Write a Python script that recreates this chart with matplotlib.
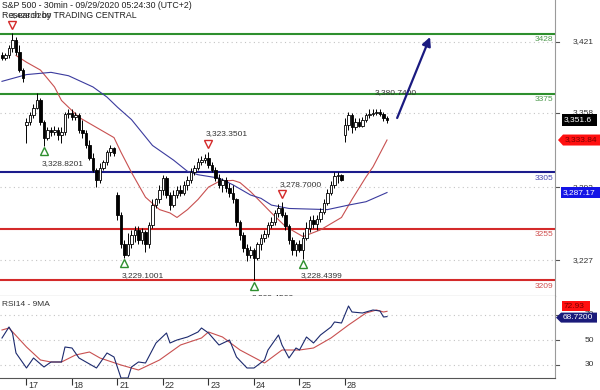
import numpy as np
import matplotlib
matplotlib.use('Agg')
import matplotlib.pyplot as plt
from matplotlib.patches import Polygon
from matplotlib.transforms import blended_transform_factory

plt.rcParams['font.family'] = ['Liberation Sans', 'DejaVu Sans']

# ---- data ----
days = ['16', '17', '18', '21', '22', '23', '24', '25', '28']
bars_per_day = [7, 13, 13, 13, 13, 13, 13, 13, 13]

opens = [3409, 3407, 3409, 3416, 3423, 3412, 3396,
         3347, 3350, 3356, 3362, 3369, 3350, 3336, 3343, 3341, 3343, 3338, 3341, 3357,
         3358, 3354, 3356, 3343, 3340, 3329.5, 3318, 3307, 3298, 3309, 3314, 3323, 3327,
         3285, 3267, 3241, 3232, 3241, 3249, 3254, 3245, 3252, 3241, 3258, 3276, 3281,
         3289, 3300, 3285, 3276, 3285, 3289, 3287, 3294, 3298, 3305, 3309, 3314, 3316,
         3318, 3312, 3307, 3300, 3294, 3298, 3291, 3287, 3281, 3261, 3249, 3238, 3232,
         3236, 3229, 3241, 3247, 3250, 3258, 3261, 3269, 3273, 3267, 3257, 3245, 3236,
         3241, 3236, 3247, 3256, 3263, 3259, 3264, 3270, 3278, 3287, 3294, 3302, 3303,
         3338, 3347, 3356, 3345, 3350, 3346, 3352, 3356, 3357, 3358, 3359, 3357, 3353]
highs = [3412, 3411, 3418, 3428.92, 3425, 3418, 3398,
         3353, 3359, 3366, 3376, 3371, 3352, 3345, 3345, 3346, 3345, 3345, 3359, 3361,
         3361, 3359, 3358, 3352, 3343, 3334, 3322, 3309, 3313, 3316, 3325, 3329, 3328,
         3288, 3270, 3245, 3251, 3254, 3257, 3257, 3256, 3254, 3261, 3281, 3282, 3294,
         3303, 3302, 3288, 3289, 3293, 3294, 3297, 3302, 3309, 3312, 3318, 3320, 3321,
         3323.3501, 3314, 3310, 3304, 3300, 3301, 3296, 3294, 3282, 3263, 3252, 3241, 3240,
         3238, 3243, 3250, 3254, 3261, 3265, 3272, 3277, 3278.70, 3270, 3259, 3248, 3243,
         3245, 3252, 3261, 3266, 3267, 3267, 3273, 3281, 3290, 3297, 3305, 3305, 3304,
         3353, 3359, 3358, 3353, 3353, 3354, 3358, 3361, 3361, 3361.5, 3361, 3359, 3355]
lows = [3405, 3405, 3407, 3412, 3409, 3394, 3385,
        3331, 3347, 3353, 3361, 3347, 3328.8201, 3334, 3337, 3338, 3334, 3331, 3338, 3353,
        3352, 3352, 3340, 3336, 3327, 3316, 3305, 3292, 3296, 3307, 3312, 3320, 3320,
        3263, 3238, 3229.1001, 3231, 3238, 3243, 3241, 3241, 3234, 3238, 3256, 3273, 3278,
        3285, 3282, 3272, 3274, 3282, 3284, 3285, 3289, 3296, 3303, 3307, 3312, 3313,
        3309, 3305, 3297, 3291, 3288, 3288, 3283, 3278, 3257, 3245, 3234, 3226, 3229,
        3209.45, 3227, 3236, 3243, 3248, 3256, 3258, 3265, 3265, 3254, 3241, 3232, 3231,
        3234, 3228.4399, 3245, 3252, 3256, 3254, 3261, 3268, 3276, 3285, 3291, 3296, 3297,
        3332, 3343, 3340, 3343, 3345, 3345, 3350, 3353, 3355, 3356, 3355, 3351, 3349]
closes = [3407, 3409, 3416, 3423, 3412, 3396, 3389,
          3350, 3356, 3362, 3369, 3350, 3336, 3343, 3341, 3343, 3338, 3341, 3357, 3358,
          3354, 3356, 3343, 3340, 3329.5, 3318, 3307, 3298, 3309, 3314, 3323, 3327, 3322,
          3267, 3241, 3232, 3241, 3249, 3254, 3245, 3252, 3241, 3258, 3276, 3281, 3289,
          3300, 3285, 3276, 3285, 3289, 3287, 3294, 3298, 3305, 3309, 3314, 3316, 3318,
          3312, 3307, 3300, 3294, 3298, 3291, 3287, 3281, 3261, 3249, 3238, 3232, 3236,
          3229, 3241, 3247, 3250, 3258, 3261, 3269, 3273, 3267, 3257, 3245, 3236, 3241,
          3236, 3247, 3256, 3263, 3259, 3264, 3270, 3278, 3287, 3294, 3302, 3303, 3298,
          3347, 3356, 3345, 3350, 3346, 3352, 3356, 3357, 3358, 3359, 3357, 3353, 3351.6]

ma_fast_idx = [4, 7, 11, 15, 17, 22, 27, 32, 34, 37, 41, 45, 48, 50, 53, 56, 59, 62, 66, 68,
               71, 77, 81, 86, 91, 97, 100, 104, 106, 110]
ma_fast = [3409, 3403, 3396, 3381, 3369, 3354, 3345, 3336, 3323, 3305, 3283, 3272, 3269, 3265,
           3272, 3281, 3292, 3297, 3298, 3296, 3288, 3269, 3257, 3248, 3254, 3265, 3281, 3301,
           3310, 3333.84]
ma_slow_idx = [0, 7, 14, 19, 26, 30, 33, 37, 43, 49, 53, 56, 62, 66, 71, 74, 77, 82, 93, 99,
               104, 110]
ma_slow = [3386, 3392, 3394, 3391, 3381, 3372, 3363, 3352, 3329, 3316, 3306, 3303, 3300, 3294,
           3285, 3282, 3276, 3273, 3272, 3276, 3279, 3287.17]

rsi_idx = [0, 2, 3, 4, 7, 9, 12, 14, 17, 18, 20, 21, 22, 27, 28, 30, 32, 34, 36, 37,
           39, 41, 44, 47, 48, 50, 53, 56, 57, 59, 62, 65, 67, 70, 72, 75, 76, 79, 80, 82,
           84, 85, 87, 89, 91, 94, 95, 97, 99, 100, 103, 106, 108, 109, 110]
rsi = [51.6, 60.4, 55.6, 39.6, 27.6, 35.6, 28.4, 32.4, 32.4, 44.4,
       43.6, 39.6, 35.6, 27.6, 31.6, 39.6, 36.4, 19.6, 19.6, 28.4,
       32.4, 31.6, 47.6, 55.6, 47.6, 50, 52.4, 56.4, 59.6, 55.6,
       46, 50, 36.4, 27.6, 27.6, 34, 42, 54, 46, 35.6,
       43.6, 42, 52.4, 47.6, 54, 60.4, 64.4, 63.6, 77.2, 72.4,
       71.6, 74, 73.2, 68.4, 68.72]
rsi_ma_idx = [0, 2, 7, 11, 14, 17, 21, 25, 28, 34, 39, 45, 51, 57, 59, 63, 68, 75, 80, 85,
              89, 94, 99, 104, 107, 109, 110]
rsi_ma = [58, 59.6, 44.4, 34, 32.4, 32.4, 38, 40.4, 35.6, 30, 26, 34, 46, 51.6, 56.4, 52.4,
          42, 31.6, 42, 42, 43.6, 51.6, 62, 71.6, 74, 72.4, 72.93]

levels = [3428, 3375, 3305, 3255, 3209]
level_colors = ['#2e8f2e', '#2e8f2e', '#1c1c8c', '#d42a2a', '#d42a2a']
level_text = ['#4f9a4f', '#4f9a4f', '#4a4ab0', '#d05050', '#d05050']

pivot_bars = [3, 12, 35, 59, 72, 80, 86]
pivot_high = [True, False, False, True, False, True, False]

price_ticks = [3421, 3358, 3292, 3227]
rsi_ticks = [70, 50, 30]

target_price = 3380.74
arrow_from = (112.9, 3353.4)
arrow_to = (122.3, 3425.4)

# ---- figure ----
W, H = 600, 390
fig = plt.figure(figsize=(6, 3.9), dpi=100)
ax = fig.add_axes([0, 1 - 296 / H, 555 / W, 296 / H])
ax2 = fig.add_axes([0, 1 - 378 / H, 555 / W, 82 / H])

n = len(closes)
x = np.arange(n)
o = np.array(opens, float)
c = np.array(closes, float)
hi = np.array(highs, float)
lo = np.array(lows, float)

for a in (ax, ax2):
    a.set_xlim(-0.57, 158)
    a.spines['left'].set_visible(False)
    a.spines['top'].set_visible(False)
    a.spines['right'].set_color('#9a9a9a')
    a.spines['bottom'].set_color('#555555')
    a.set_yticks([])
ax.set_ylim(3195.2, 3458.3)
ax2.set_ylim(19.6, 85.2)
ax.set_xticks([])

for v in price_ticks:
    ax.axhline(v, color='#c4c4c4', lw=0.8, ls=(0, (1, 3)), zorder=0)
for v in rsi_ticks:
    ax2.axhline(v, color='#c4c4c4', lw=0.8, ls=(0, (1, 3)), zorder=0)

# support / resistance
for lv, col, tcol in zip(levels, level_colors, level_text):
    ax.axhline(lv, color=col, lw=1.5, zorder=1)
    ax.annotate(str(lv), xy=(1, lv), xycoords=('axes fraction', 'data'),
                xytext=(-1, -1.5), textcoords='offset points', ha='right', va='top',
                fontsize=6, color=tcol)

# moving averages
ax.plot(ma_fast_idx, ma_fast, color='#c85050', lw=0.8, zorder=2)
ax.plot(ma_slow_idx, ma_slow, color='#3b3b9e', lw=0.8, zorder=2)

# candles
up = c >= o
ax.vlines(x, lo, hi, color='black', lw=0.7, zorder=3)
body = np.maximum(np.abs(c - o), 0.4)
ax.bar(x[up], body[up], bottom=np.minimum(o, c)[up], width=0.65,
       color='white', edgecolor='black', lw=0.6, zorder=4)
ax.bar(x[~up], body[~up], bottom=np.minimum(o, c)[~up], width=0.65,
       color='black', edgecolor='black', lw=0.6, zorder=4)

# pivots
for b, is_high in zip(pivot_bars, pivot_high):
    if is_high:
        v = hi[b]
        ax.plot(b, v + 7, marker='v', ms=6, mfc='white', mec='#d42a2a', mew=1, zorder=5)
        ax.text(b - 0.8, v + 16, f'{v:,.4f}', fontsize=6, color='#333333',
                ha='left', va='center', zorder=5)
    else:
        v = lo[b]
        ax.plot(b, v - 5, marker='^', ms=6, mfc='white', mec='#2e8f2e', mew=1, zorder=5)
        ax.text(b - 0.8, v - 15.5, f'{v:,.4f}', fontsize=6, color='#333333',
                ha='left', va='center', zorder=5, clip_on=True)

ax.text(106.6, target_price - 5, f'{target_price:,.4f}', fontsize=6, color='#333333',
        ha='left', va='center', zorder=5)
ax.annotate('', xy=arrow_to, xytext=arrow_from,
            arrowprops=dict(arrowstyle='-|>', color='#1a1a80', lw=1.6,
                            mutation_scale=13, shrinkA=0, shrinkB=0), zorder=6)

# RSI
ax2.plot(rsi_ma_idx, rsi_ma, color='#c85050', lw=0.8)
ax2.plot(rsi_idx, rsi, color='#1c2a6e', lw=0.8)
ax2.text(2 / 555, 1 - 8 / 82, 'RSI14 - 9MA', transform=ax2.transAxes,
         fontsize=6, color='#333333', va='center', ha='left')

# day ticks
starts = np.cumsum([0] + bars_per_day[:-1])
ax2.set_xticks(starts[1:])
ax2.set_xticklabels([])
ax2.tick_params(axis='x', direction='out', length=5, color='#333333', width=0.8)
tb = blended_transform_factory(ax2.transData, fig.transFigure)
for s, d in zip(starts[1:], days[1:]):
    ax2.text(s + 0.5, 1 - 385 / H, d, transform=tb, fontsize=6.5, color='#333333',
             ha='left', va='center', clip_on=False)

# right axis labels and ticks
def right_labels(a, vals, fmt):
    tr = blended_transform_factory(fig.transFigure, a.transData)
    for v in vals:
        a.plot([1, 1.008], [v, v], transform=blended_transform_factory(a.transAxes, a.transData),
               color='#555555', lw=0.8, clip_on=False)
        fig.text(594 / W, 0, fmt(v), transform=tr, fontsize=6, color='#333333',
                 ha='right', va='center').set_y(v)

right_labels(ax, price_ticks, lambda v: f'{v:,}')
right_labels(ax2, rsi_ticks, lambda v: f'{v}')


def tag(a, value, text, fc, tc, x0, x1, h=11, arrow=False, dy=0):
    yc = a.transData.transform((0, value))[1] + dy
    pts = [(x0, yc - h / 2), (x1, yc - h / 2), (x1, yc + h / 2), (x0, yc + h / 2)]
    if arrow:
        pts.append((x0 - 5, yc))
    fig.add_artist(Polygon([(px / W, py / H) for px, py in pts], closed=True,
                           transform=fig.transFigure, facecolor=fc, edgecolor='none', zorder=5))
    fig.text((x0 + 1.5) / W, yc / H, text, fontsize=6, color=tc, ha='left', va='center',
             zorder=6)


tag(ax, closes[-1], f'{closes[-1]:,.1f}', 'black', 'white', 562, 597, h=12)
tag(ax, ma_fast[-1], f'{ma_fast[-1]:,.2f}', '#ff1010', '#7a0000', 563, 600, arrow=True)
tag(ax, ma_slow[-1], f'{ma_slow[-1]:,.2f}', '#1414e6', 'white', 561, 600)
tag(ax2, rsi_ma[-1], f'{rsi_ma[-1]:.2f}', '#ff1010', '#7a0000', 562, 590, h=10, dy=5)
tag(ax2, rsi[-1], f'{rsi[-1]:.4f}', '#1a1a7a', 'white', 561, 597, h=10, arrow=True, dy=-1)

# header
fig.text(2 / W, 1 - 6 / H, 'S&P 500 - 30min - 09/29/2020 05:24:30 (UTC+2)',
         fontsize=6.3, color='#222222', va='center', ha='left')
fig.text(2 / W, 1 - 16 / H, 'Research by TRADING CENTRAL',
         fontsize=6.3, color='#222222', va='center', ha='left')

fig.savefig('out.png', dpi=100)
